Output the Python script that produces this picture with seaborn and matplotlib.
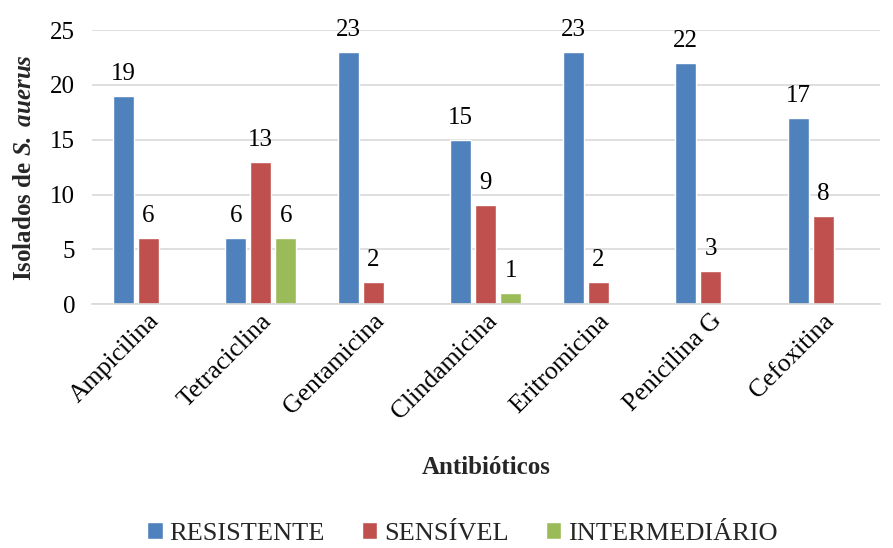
import numpy as np
import pandas as pd
import matplotlib
matplotlib.use("Agg")
import matplotlib.pyplot as plt
import seaborn as sns

antibioticos = ["Ampicilina", "Tetraciclina", "Gentamicina", "Clindamicina",
                "Eritromicina", "Penicilina G", "Cefoxitina"]
resistente = [19, 6, 23, 15, 23, 22, 17]
sensivel = [6, 13, 2, 9, 2, 3, 8]
intermediario = [np.nan, 6, np.nan, 1, np.nan, np.nan, np.nan]
series = ["RESISTENTE", "SENSÍVEL", "INTERMEDIÁRIO"]
colors = ["#4F81BD", "#C0504D", "#9BBB59"]

df = pd.DataFrame({
    "Antibiótico": antibioticos * 3,
    "Serie": [series[0]] * 7 + [series[1]] * 7 + [series[2]] * 7,
    "Valor": resistente + sensivel + intermediario,
})

sns.set_theme(style="white")
plt.rcParams["font.family"] = ["Liberation Serif", "DejaVu Serif"]
plt.rcParams["mathtext.fontset"] = "custom"
plt.rcParams["mathtext.rm"] = "Liberation Serif"
plt.rcParams["mathtext.it"] = "Liberation Serif:italic"
plt.rcParams["mathtext.bf"] = "Liberation Serif:bold"
plt.rcParams["mathtext.bfit"] = "Liberation Serif:italic:bold"

fig = plt.figure(figsize=(8.93, 5.48), dpi=100)
ax = fig.add_axes([0.103, 0.445, 0.882, 0.50])

sns.barplot(data=df, x="Antibiótico", y="Valor", hue="Serie", order=antibioticos,
            hue_order=series, palette=colors, width=0.67, gap=0.16, ax=ax,
            legend=True, saturation=1)

for cont in ax.containers:
    labels = ["" if np.isnan(v) else f"{int(v)}" for v in cont.datavalues]
    ax.bar_label(cont, labels=labels, padding=8, fontsize=18, color="black")

ax.set_ylim(0, 25)
ax.set_yticks([0, 5, 10, 15, 20, 25])
ax.yaxis.grid(True, color="#d9d9d9", linewidth=1.2)
ax.set_axisbelow(True)
for s in ["top", "right", "left"]:
    ax.spines[s].set_visible(False)
ax.spines["bottom"].set_color("#d9d9d9")
ax.spines["bottom"].set_linewidth(1.2)
ax.tick_params(axis="y", labelsize=18, length=0, pad=12, colors="black")
ax.tick_params(axis="x", labelsize=18.5, length=0, pad=4, colors="black")
plt.setp(ax.get_xticklabels(), rotation=45, ha="right", rotation_mode="anchor")

ax.set_ylabel("Isolados de $\\bfit{S.\\ auerus}$", fontsize=18, fontweight="bold", labelpad=10)
ax.set_xlabel("Antibióticos", fontsize=18, fontweight="bold")
ax.xaxis.set_label_coords(0.5, -0.555)

h, l = ax.get_legend_handles_labels()
ax.legend(h, l, loc="lower center", bbox_to_anchor=(0.47, -0.945), ncol=3,
          frameon=False, fontsize=19, handlelength=0.6, handleheight=0.6,
          handletextpad=0.25, columnspacing=1.4, borderpad=0.2)

fig.savefig("out.png", dpi=100)
